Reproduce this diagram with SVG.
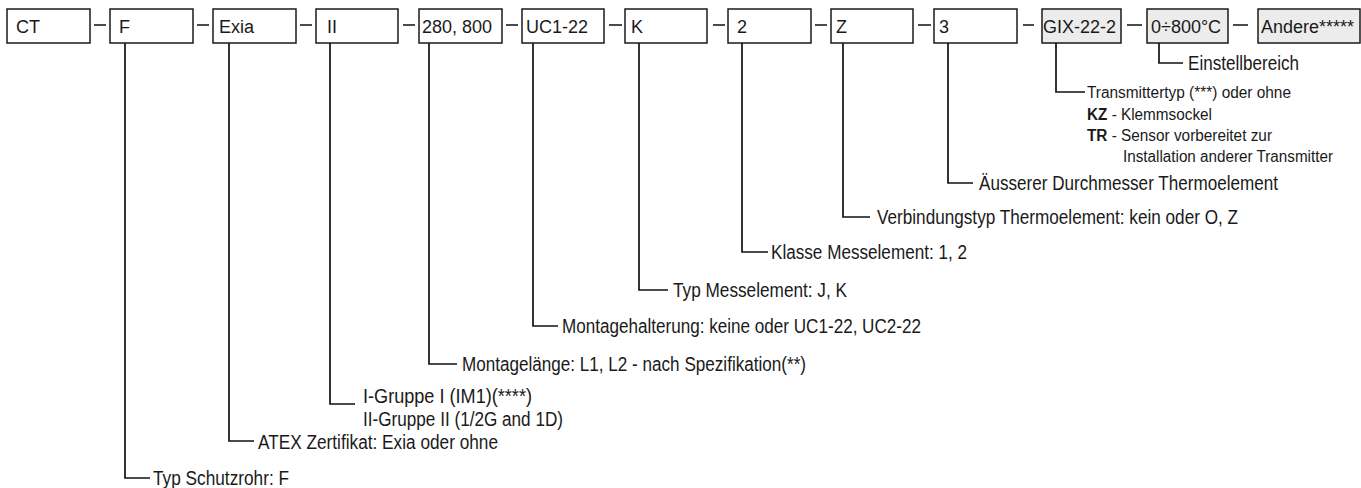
<svg xmlns="http://www.w3.org/2000/svg" width="1361" height="488" viewBox="0 0 1361 488">
<style>
.box{fill:#fff;stroke:#1a1a1a;stroke-width:1.5}
.gbox{fill:#ececec;stroke:#1a1a1a;stroke-width:1.5}
.bt{font-family:"Liberation Sans",Arial,sans-serif;font-size:18px;fill:#1a1a1a}
.lt{font-family:"Liberation Sans",Arial,sans-serif;font-size:20px;fill:#1a1a1a}
.st{font-family:"Liberation Sans",Arial,sans-serif;font-size:16px;fill:#1a1a1a}
.ln{fill:none;stroke:#111;stroke-width:1.7}
</style>
<rect width="1361" height="488" fill="#fff"/>
<g id="node-ct"><rect class="box" x="7" y="9" width="83" height="34"/><text class="bt" x="16" y="33">CT</text></g>
<g id="node-f"><rect class="box" x="110" y="9" width="83" height="34"/><text class="bt" x="119" y="33">F</text></g>
<g id="node-exia"><rect class="box" x="213" y="9" width="83" height="34"/><text class="bt" x="219" y="33">Exia</text></g>
<g id="node-ii"><rect class="box" x="316" y="9" width="82" height="34"/><text class="bt" x="327" y="33">II</text></g>
<g id="node-280"><rect class="box" x="419" y="9" width="83" height="34"/><text class="bt" x="422" y="33">280, 800</text></g>
<g id="node-uc"><rect class="box" x="522" y="9" width="82" height="34"/><text class="bt" x="526" y="33">UC1-22</text></g>
<g id="node-k"><rect class="box" x="625" y="9" width="82" height="34"/><text class="bt" x="631" y="33">K</text></g>
<g id="node-2"><rect class="box" x="728" y="9" width="83" height="34"/><text class="bt" x="737" y="33">2</text></g>
<g id="node-z"><rect class="box" x="831" y="9" width="82" height="34"/><text class="bt" x="836" y="33">Z</text></g>
<g id="node-3"><rect class="box" x="934" y="9" width="83" height="34"/><text class="bt" x="939" y="33">3</text></g>
<g id="node-gix"><rect class="gbox" x="1042" y="9" width="79" height="34"/><text class="bt" x="1043" y="33">GIX-22-2</text></g>
<g id="node-range"><rect class="gbox" x="1147" y="9" width="81" height="34"/><text class="bt" x="1151" y="33">0÷800°C</text></g>
<g id="node-andere"><rect class="gbox" x="1258" y="9" width="102" height="34"/><text class="bt" x="1261" y="33">Andere*****</text></g>
<g id="connectors" class="ln">
<path d="M94 25H106M197 25H209M300 25H312M403 25H415M506 25H518M609 25H622M713 25H725M815 25H827M918 25H931M1023 25H1034M1127 25H1142M1233 25H1248"/>
<path d="M1159 43V63H1183"/>
<path d="M1056 43V92H1085"/>
<path d="M948 43V183H973"/>
<path d="M843 43V217H870"/>
<path d="M742 43V252H768"/>
<path d="M639 43V290H668"/>
<path d="M533 43V326H558"/>
<path d="M429 43V364H457"/>
<path d="M330 43V404H355"/>
<path d="M229 43V441H254"/>
<path d="M125 43V478H150"/>
</g>
<g id="labels">
<text class="lt" x="1188" y="70" textLength="111" lengthAdjust="spacingAndGlyphs">Einstellbereich</text>
<text class="st" x="1087" y="98" textLength="204" lengthAdjust="spacingAndGlyphs">Transmittertyp (***) oder ohne</text>
<text class="st" x="1087" y="120" textLength="125" lengthAdjust="spacingAndGlyphs"><tspan font-weight="bold">KZ</tspan> - Klemmsockel</text>
<text class="st" x="1087" y="141" textLength="185" lengthAdjust="spacingAndGlyphs"><tspan font-weight="bold">TR</tspan> - Sensor vorbereitet zur</text>
<text class="st" x="1123" y="162" textLength="210" lengthAdjust="spacingAndGlyphs">Installation anderer Transmitter</text>
<text class="lt" x="979" y="190" textLength="299" lengthAdjust="spacingAndGlyphs">Äusserer Durchmesser Thermoelement</text>
<text class="lt" x="877" y="224" textLength="361" lengthAdjust="spacingAndGlyphs">Verbindungstyp Thermoelement: kein oder O, Z</text>
<text class="lt" x="771" y="259" textLength="196" lengthAdjust="spacingAndGlyphs">Klasse Messelement: 1, 2</text>
<text class="lt" x="673" y="297" textLength="174" lengthAdjust="spacingAndGlyphs">Typ Messelement: J, K</text>
<text class="lt" x="562" y="333" textLength="359" lengthAdjust="spacingAndGlyphs">Montagehalterung: keine oder UC1-22, UC2-22</text>
<text class="lt" x="462" y="371" textLength="344" lengthAdjust="spacingAndGlyphs">Montagelänge: L1, L2 - nach Spezifikation(**)</text>
<text class="lt" x="363" y="403" textLength="169" lengthAdjust="spacingAndGlyphs">I-Gruppe I (IM1)(****)</text>
<text class="lt" x="363" y="426" textLength="200" lengthAdjust="spacingAndGlyphs">II-Gruppe II (1/2G and 1D)</text>
<text class="lt" x="258" y="449" textLength="240" lengthAdjust="spacingAndGlyphs">ATEX Zertifikat: Exia oder ohne</text>
<text class="lt" x="153" y="485" textLength="136" lengthAdjust="spacingAndGlyphs">Typ Schutzrohr: F</text>
</g>
</svg>
